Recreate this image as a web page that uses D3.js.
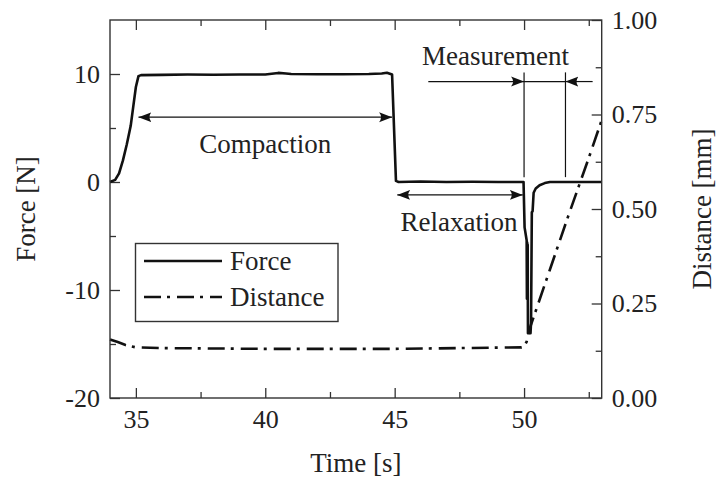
<!DOCTYPE html>
<html>
<head>
<meta charset="utf-8">
<script src="https://cdn.jsdelivr.net/npm/d3@7"></script>
<style>
  html, body { margin: 0; padding: 0; background: #fff; }
</style>
</head>
<body>
<div id="chart"></div>
<script>
// force [N] against time [s]
var forceTime = [34.0, 34.2, 34.35, 34.5, 34.65, 34.8, 34.9, 35.0, 35.1, 35.2, 36.0, 37.0, 38.0, 39.0, 40.0, 40.5, 40.8, 41.0, 42.0, 43.0, 44.0, 44.5, 44.7, 44.9, 45.05, 45.15, 46.0, 47.0, 48.0, 49.0, 49.98, 50.02, 50.1, 50.11, 50.12, 50.13, 50.14, 50.15, 50.25, 50.27, 50.3, 50.33, 50.37, 50.45, 50.6, 50.8, 51.0, 52.0, 53.0];
var forceValues = [0.0, 0.2, 0.8, 2.0, 3.5, 5.2, 7.0, 8.8, 9.8, 9.9, 9.92, 9.95, 9.93, 9.96, 9.95, 10.1, 10.05, 10.0, 9.97, 9.98, 10.0, 10.05, 10.12, 9.95, 0.1, 0.0, 0.05, 0.0, 0.02, 0.0, 0.0, -4.2, -5.4, -10.8, -5.6, -10.8, -5.8, -14.0, -14.0, -13.0, -2.8, -2.7, -1.0, -0.6, -0.3, -0.1, 0.0, 0.0, 0.0];

// distance [mm] against time [s]
var distTime = [34.0, 34.3, 34.6, 35.0, 36.0, 40.0, 45.0, 49.9, 50.0, 50.1, 50.2, 50.3, 51.0, 51.7, 52.5, 53.0];
var distValues = [0.155, 0.148, 0.14, 0.134, 0.132, 0.130, 0.130, 0.134, 0.136, 0.149, 0.18, 0.20, 0.34, 0.48, 0.635, 0.735];

var xMajor = [35, 40, 45, 50];
var xMinor = [37.5, 42.5, 47.5, 52.5];
var forceMajor = [-20, -10, 0, 10];
var forceMinor = [-15, -5, 5];
var distMajor = [0, 0.25, 0.5, 0.75, 1];
var distMinor = [0.125, 0.375, 0.625, 0.875];

var seriesNames = ["Force", "Distance"];

// annotations in data units: [label, x0, x1, force]
var spanArrows = [
  ["Compaction", 35.1, 44.9, 6.0],
  ["Relaxation", 45.1, 49.95, -1.2]
];
var measureBounds = [50.0, 51.6];
var measureFrom = [46.3, 52.65];

(function(d3) {

  'use strict';

  var FONT = '"Liberation Serif", "Times New Roman", Tinos, Times, "DejaVu Serif", "Noto Serif", serif';

  var Chart = function(element) {
    this.element = element;
    this.width = 716;
    this.height = 479;
    this.left = 110;
    this.right = 601.7;
    this.top = 20;
    this.bottom = 398;
    this.svg = null;
  };

  Chart.prototype = {

    init: function() {
      this.setSvg();
      this.setScales();
      this.drawAxes();
      this.drawSeries();
      this.drawFrame();
      this.drawAnnotations();
      this.drawLegend();
      this.drawTitles();
    },

    setSvg: function() {
      this.svg = d3.select(this.element)
        .append("svg")
        .attr("width", this.width)
        .attr("height", this.height);

      // latex-ish arrow head
      this.svg.append("defs").append("marker")
        .attr("id", "head")
        .attr("viewBox", "-13 -6 14 12")
        .attr("refX", 0)
        .attr("refY", 0)
        .attr("markerWidth", 14)
        .attr("markerHeight", 12)
        .attr("markerUnits", "userSpaceOnUse")
        .attr("orient", "auto-start-reverse")
        .append("path")
        .attr("d", "M0,0 L-13,-5 Q-9,0 -13,5 Z")
        .style("fill", "#111");
    },

    setScales: function() {
      this.x = d3.scaleLinear().domain([34, 53]).range([this.left, this.right]);
      this.yF = d3.scaleLinear().domain([-20, 15]).range([this.bottom, this.top]);
      this.yD = d3.scaleLinear().domain([0, 1]).range([this.bottom, this.top]);
    },

    axis: function(gen, scale, values, size, fmt, transform, pad) {
      var g = this.svg.append("g")
        .attr("transform", transform)
        .attr("font-family", FONT)
        .attr("font-size", 26)
        .call(gen(scale).tickValues(values).tickSize(size).tickPadding(pad).tickFormat(fmt));
      g.attr("font-family", FONT).attr("font-size", 26);
      g.select(".domain").remove();
      g.selectAll("line").style("stroke", "#333").style("stroke-width", 1.3);
      g.selectAll("text").style("fill", "#222").style("font-family", FONT).style("font-size", "26px");
      return g;
    },

    drawAxes: function() {
      var none = function() { return ""; };
      var str = function(d) { return String(d); };
      var b = "translate(0," + this.bottom + ")";
      var t = "translate(0," + this.top + ")";
      var l = "translate(" + this.left + ",0)";
      var r = "translate(" + this.right + ",0)";

      this.axis(d3.axisBottom, this.x, xMajor, -10, str, b, 12);
      this.axis(d3.axisBottom, this.x, xMinor, -6, none, b, 12);
      this.axis(d3.axisTop, this.x, xMajor, -10, none, t, 4);
      this.axis(d3.axisTop, this.x, xMinor, -6, none, t, 4);

      this.axis(d3.axisLeft, this.yF, forceMajor, -10, str, l, 10);
      this.axis(d3.axisLeft, this.yF, forceMinor, -6, none, l, 10);

      this.axis(d3.axisRight, this.yD, distMajor, -10, d3.format(".2f"), r, 10);
      this.axis(d3.axisRight, this.yD, distMinor, -6, none, r, 10);
    },

    drawSeries: function() {
      var x = this.x, yF = this.yF, yD = this.yD;

      var forceLine = d3.line()
        .x(function(d, i) { return x(forceTime[i]); })
        .y(function(d) { return yF(d); });

      var distLine = d3.line()
        .x(function(d, i) { return x(distTime[i]); })
        .y(function(d) { return yD(d); });

      this.svg.append("path")
        .attr("d", distLine(distValues))
        .style("fill", "none")
        .style("stroke", "#111")
        .style("stroke-width", 2.6)
        .style("stroke-dasharray", "17,6,3,7");

      this.svg.append("path")
        .attr("d", forceLine(forceValues))
        .style("fill", "none")
        .style("stroke", "#111")
        .style("stroke-width", 2.6)
        .style("stroke-linejoin", "round");
    },

    drawFrame: function() {
      this.svg.append("rect")
        .attr("x", this.left)
        .attr("y", this.top)
        .attr("width", this.right - this.left)
        .attr("height", this.bottom - this.top)
        .style("fill", "none")
        .style("stroke", "#333")
        .style("stroke-width", 1.4);
    },

    arrow: function(x0, y0, x1, y1, both) {
      var p = this.svg.append("line")
        .attr("x1", x0).attr("y1", y0)
        .attr("x2", x1).attr("y2", y1)
        .style("stroke", "#111")
        .style("stroke-width", 1.2)
        .attr("marker-end", "url(#head)");
      if (both) p.attr("marker-start", "url(#head)");
      return p;
    },

    text: function(sel, size) {
      return sel.append("text")
        .attr("font-family", FONT)
        .style("font-family", FONT)
        .style("font-size", (size || 27) + "px")
        .style("fill", "#222");
    },

    label: function(text, cx, cy, anchor) {
      this.text(this.svg)
        .attr("x", cx)
        .attr("y", cy)
        .attr("text-anchor", anchor || "middle")
        .attr("dominant-baseline", "central")
        .text(text);
    },

    drawAnnotations: function() {
      var x = this.x, yF = this.yF;

      spanArrows.forEach(function(a) {
        this.arrow(x(a[1]), yF(a[3]), x(a[2]), yF(a[3]), true);
      }.bind(this));

      this.label(spanArrows[0][0], x(40.0), yF(3.55));
      this.label(spanArrows[1][0], x(49.75), yF(-3.7), "end");

      // measurement window
      var yTop = yF(10.15), yBot = yF(0.45), yArr = yF(9.3);
      measureBounds.forEach(function(t) {
        this.svg.append("line")
          .attr("x1", x(t)).attr("x2", x(t))
          .attr("y1", yTop).attr("y2", yBot)
          .style("stroke", "#111")
          .style("stroke-width", 1.2);
      }.bind(this));

      this.svg.append("line")
        .attr("x1", x(measureBounds[0])).attr("x2", x(measureBounds[1]))
        .attr("y1", yArr).attr("y2", yArr)
        .style("stroke", "#111")
        .style("stroke-width", 1.2);

      this.arrow(x(measureFrom[0]), yArr, x(measureBounds[0]), yArr, false);
      this.arrow(x(measureFrom[1]), yArr, x(measureBounds[1]), yArr, false);

      this.label("Measurement", x(48.9), yF(11.7));
    },

    drawLegend: function() {
      var g = this.svg.append("g");
      g.append("rect")
        .attr("x", 135.5).attr("y", 243.5)
        .attr("width", 202.5).attr("height", 78)
        .style("fill", "#fff")
        .style("stroke", "#333")
        .style("stroke-width", 1.4);

      var dashes = [null, "17,6,3,7"];
      seriesNames.forEach(function(name, i) {
        var y = 261 + i * 36;
        g.append("line")
          .attr("x1", 144).attr("x2", 222)
          .attr("y1", y).attr("y2", y)
          .style("stroke", "#111")
          .style("stroke-width", 2.6)
          .style("stroke-dasharray", dashes[i]);
        this.text(g)
          .attr("x", 230)
          .attr("y", y)
          .attr("dominant-baseline", "central")
          .text(name);
      }.bind(this));
    },

    drawTitles: function() {
      var midY = (this.top + this.bottom) / 2;
      this.text(this.svg)
        .attr("transform", "translate(26," + midY + ") rotate(-90)")
        .attr("text-anchor", "middle")
        .attr("dominant-baseline", "central")
        .text("Force [N]");

      this.text(this.svg)
        .attr("transform", "translate(702," + midY + ") rotate(-90)")
        .attr("text-anchor", "middle")
        .attr("dominant-baseline", "central")
        .text("Distance [mm]");

      this.text(this.svg)
        .attr("x", (this.left + this.right) / 2)
        .attr("y", 463)
        .attr("text-anchor", "middle")
        .attr("dominant-baseline", "central")
        .text("Time [s]");
    }

  };

  var chart = new Chart("#chart");
  chart.init();

})(d3);
</script>
</body>
</html>
